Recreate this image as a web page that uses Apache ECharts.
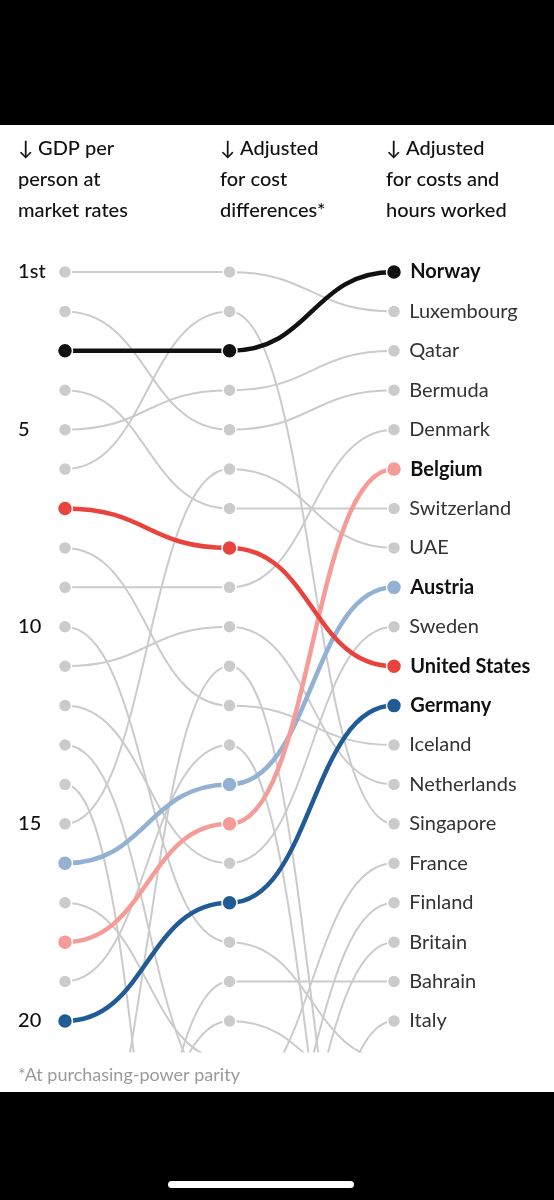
<!DOCTYPE html>
<html>
<head>
<meta charset="utf-8">
<script src="https://cdn.jsdelivr.net/npm/echarts@6/dist/echarts.min.js"></script>
<style>
html, body { margin: 0; padding: 0; background: #fff; }
#chart { width: 554px; height: 1200px; }
</style>
</head>
<body>
<div id="chart"></div>
<script>
// ranks in the three columns; anything past 20 runs off the bottom
var countries   = ['Luxembourg', 'Bermuda', 'Norway', 'Switzerland', 'Qatar', 'Singapore', 'United States',
                   'Iceland', 'Denmark', 'Australia', 'Netherlands', 'Sweden', 'France', 'Canada', 'UAE',
                   'Austria', 'Israel', 'Belgium', 'Hong Kong', 'Germany', 'Britain', 'Finland', 'Taiwan',
                   'Italy', 'Brunei', 'Bahrain'];
var rankMarket  = [1, 2, 3, 4, 5, 6, 7, 8, 9, 10, 11, 12, 13, 14, 15, 16, 17, 18, 19, 20, 22, 24, 25, 26, 28, 31];
var rankPPP     = [1, 5, 3, 7, 4, 2, 8, 12, 9, 18, 10, 16, 22, 34, 6, 14, 21, 15, 13, 17, 27, 25, 11, 31, 20, 19];
var rankHours   = [2, 4, 1, 7, 3, 15, 11, 13, 5, 21, 14, 10, 16, 26, 8, 9, 23, 6, 30, 12, 18, 17, 28, 20, 22, 19];

var highlight = {
	'Austria': '#93b1d3',
	'Belgium': '#f59c98',
	'Germany': '#215b96',
	'United States': '#e8433d',
	'Norway': '#111111'
};
var drawOrder = ['Austria', 'Belgium', 'Germany', 'United States', 'Norway'];

var columnTitles = ['\u2193 GDP per\nperson at\nmarket rates', '\u2193 Adjusted\nfor cost\ndifferences*', '\u2193 Adjusted\nfor costs and\nhours worked'];
var titleX = [18, 220, 386];
var rankTicks = [1, 5, 10, 15, 20];
var note = '*At purchasing-power parity';

var FONT = 'Lato, "DejaVu Sans", sans-serif';
var GREY = '#cbcbcb';

function weight(name) {
	var i = drawOrder.indexOf(name);
	return i < 0 ? -1 : i;
}

var order = countries.map(function (c, i) { return i; });
order.sort(function (a, b) { return weight(countries[a]) - weight(countries[b]); });

var cols = [rankMarket, rankPPP, rankHours];
var links = [];
var dots = [];
order.forEach(function (i) {
	for (var k = 0; k < 2; k++) {
		links.push([k, cols[k][i], k + 1, cols[k + 1][i], i]);
	}
});
order.forEach(function (i) {
	var name = countries[i];
	var col = highlight[name] || GREY;
	for (var k = 0; k < 3; k++) {
		if (cols[k][i] > 20) continue; // below the cut-off
		var item = {
			value: [k, cols[k][i]],
			symbolSize: highlight[name] ? 15 : 13,
			itemStyle: { color: col }
		};
		if (k == 2) {
			item.label = {
				show: true,
				position: 'right',
				distance: 8,
				formatter: name,
				fontFamily: FONT,
				fontSize: 20,
				fontWeight: highlight[name] ? 'bold' : 'normal',
				color: highlight[name] ? '#111' : '#333'
			};
		}
		dots.push(item);
	}
});

function renderLink(params, api) {
	var p0 = api.coord([api.value(0), api.value(1)]);
	var p1 = api.coord([api.value(2), api.value(3)]);
	var name = countries[api.value(4)];
	var mx = (p0[0] + p1[0]) / 2;
	var cs = params.coordSys;
	return {
		type: 'group',
		clipPath: { type: 'rect', shape: { x: cs.x - 40, y: cs.y, width: cs.width + 80, height: cs.height } },
		children: [{
			type: 'bezierCurve',
			shape: { x1: p0[0], y1: p0[1], x2: p1[0], y2: p1[1], cpx1: mx, cpy1: p0[1], cpx2: mx, cpy2: p1[1] },
			style: {
				stroke: highlight[name] || GREY,
				lineWidth: highlight[name] ? 4.5 : 2,
				fill: null
			}
		}]
	};
}

var titles = columnTitles.map(function (t, i) {
	return {
		type: 'text',
		left: titleX[i],
		top: 133,
		style: { text: t, font: '500 20px ' + FONT, fill: '#111', lineHeight: 31 }
	};
});

var chart = echarts.init(document.getElementById('chart'));
chart.setOption({
	backgroundColor: '#fff',
	animation: false,
	grid: { left: 32.1, width: 394.8, top: 252.3, height: 800.2 },
	xAxis: { type: 'value', min: -0.2, max: 2.2, show: false },
	yAxis: {
		type: 'value',
		inverse: true,
		min: 0.5,
		max: 20.8,
		axisLine: { show: false },
		axisTick: { show: false },
		splitLine: { show: false },
		axisLabel: {
			customValues: rankTicks,
			align: 'left',
			margin: 14,
			fontFamily: FONT,
			fontSize: 20,
			fontWeight: 500,
			color: '#111',
			formatter: function (v) { return v == 1 ? '1st' : String(v); }
		}
	},
	graphic: titles.concat([
		{ type: 'rect', left: 0, top: 0, shape: { width: 554, height: 125 }, style: { fill: '#000' } },
		{ type: 'rect', left: 0, top: 1092, shape: { width: 554, height: 108 }, style: { fill: '#000' } },
		{ type: 'rect', left: 168, top: 1181, z: 10, shape: { width: 186, height: 7, r: 3.5 }, style: { fill: '#fff' } },
		{ type: 'text', left: 18, top: 1066, style: { text: note, font: '18px ' + FONT, fill: '#9a9a9a' } }
	]),
	series: [{
		type: 'custom',
		renderItem: renderLink,
		encode: { x: [0, 2], y: [1, 3] },
		data: links,
		z: 2
	}, {
		type: 'scatter',
		data: dots,
		clip: false,
		itemStyle: { borderColor: '#fff', borderWidth: 1.5, opacity: 1 },
		z: 3
	}]
});
</script>
</body>
</html>
